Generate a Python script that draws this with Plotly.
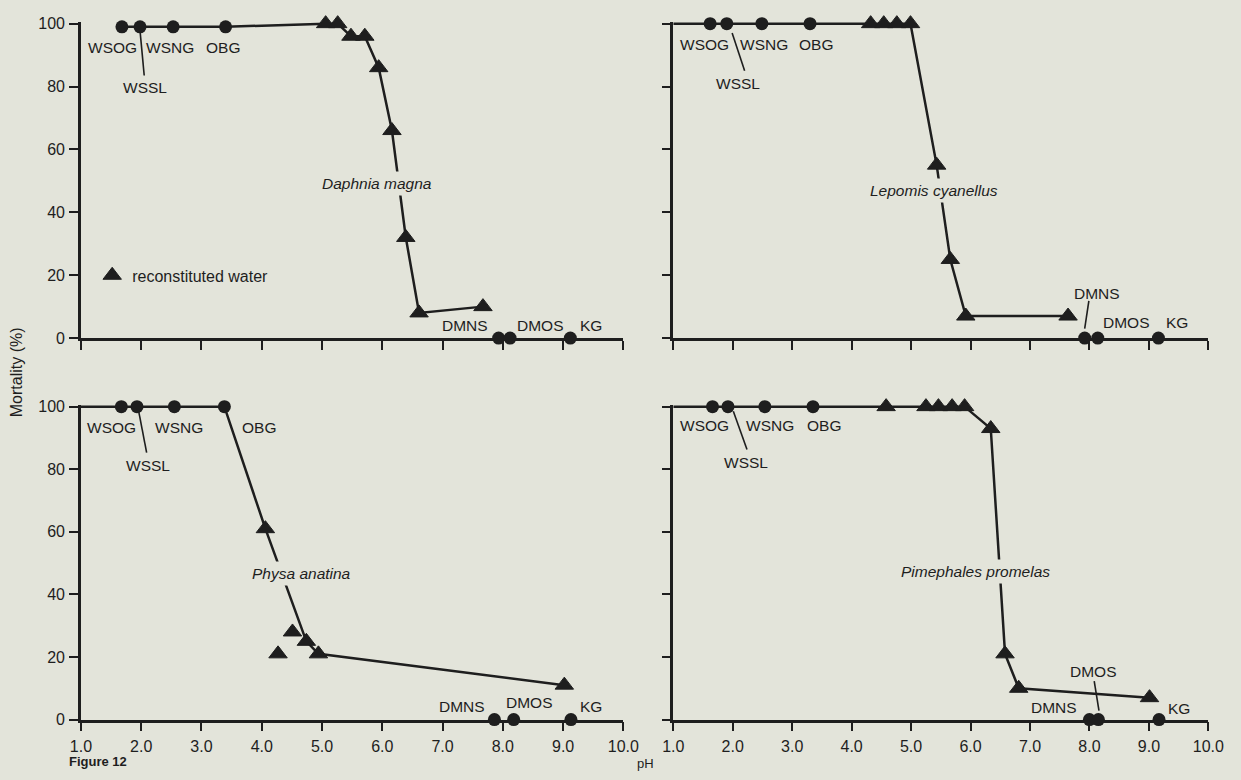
import plotly.graph_objects as go

# ---------------------------------------------------------------------------
# Data: mortality (%) versus pH for four test organisms.
# Circles are the field waters, triangles are reconstituted water.
# ---------------------------------------------------------------------------
x_ticks = [1, 2, 3, 4, 5, 6, 7, 8, 9, 10]
x_tick_labels = ["1.0", "2.0", "3.0", "4.0", "5.0", "6.0", "7.0", "8.0", "9.0", "10.0"]
y_ticks = [0, 20, 40, 60, 80, 100]
y_tick_labels = ["0", "20", "40", "60", "80", "100"]

acid_water_names = ["WSOG", "WSSL", "WSNG", "OBG"]
alkaline_water_names = ["DMNS", "DMOS", "KG"]
species = ["Daphnia magna", "Lepomis cyanellus", "Physa anatina", "Pimephales promelas"]

# Daphnia magna
daphnia_acid_ph = [1.68, 1.98, 2.53, 3.40]
daphnia_acid_mort = [99, 99, 99, 99]
daphnia_alk_ph = [7.93, 8.12, 9.12]
daphnia_alk_mort = [0, 0, 0]
daphnia_recon_ph = [5.06, 5.26, 5.48, 5.71, 5.94, 6.16, 6.39, 6.61, 7.67]
daphnia_recon_mort = [100, 100, 96, 96, 86, 66, 32, 8, 10]
daphnia_curve_ph = [1.68, 1.98, 2.53, 3.40, 5.06, 5.26, 5.48, 5.71, 5.94, 6.16, 6.39, 6.61, 7.67]
daphnia_curve_mort = [99, 99, 99, 99, 100, 100, 96, 96, 86, 66, 32, 8, 10]

# Lepomis cyanellus
lepomis_acid_ph = [1.62, 1.90, 2.49, 3.30]
lepomis_acid_mort = [100, 100, 100, 100]
lepomis_alk_ph = [7.92, 8.14, 9.16]
lepomis_alk_mort = [0, 0, 0]
lepomis_recon_ph = [4.32, 4.54, 4.76, 4.99, 5.43, 5.66, 5.92, 7.64]
lepomis_recon_mort = [100, 100, 100, 100, 55, 25, 7, 7]
lepomis_curve_ph = [1.0, 1.62, 1.90, 2.49, 3.30, 4.32, 4.54, 4.76, 4.99, 5.43, 5.66, 5.92, 7.64]
lepomis_curve_mort = [100, 100, 100, 100, 100, 100, 100, 100, 100, 55, 25, 7, 7]

# Physa anatina
physa_acid_ph = [1.67, 1.93, 2.55, 3.38]
physa_acid_mort = [100, 100, 100, 100]
physa_alk_ph = [7.86, 8.18, 9.13]
physa_alk_mort = [0, 0, 0]
physa_recon_ph = [4.06, 4.27, 4.51, 4.74, 4.94, 9.02]
physa_recon_mort = [61, 21, 28, 25, 21, 11]
physa_curve_ph = [1.0, 1.67, 1.93, 2.55, 3.38, 4.06, 4.74, 4.94, 9.02]
physa_curve_mort = [100, 100, 100, 100, 100, 61, 25, 21, 11]

# Pimephales promelas
pimephales_acid_ph = [1.66, 1.92, 2.54, 3.35]
pimephales_acid_mort = [100, 100, 100, 100]
pimephales_alk_ph = [8.00, 8.15, 9.17]
pimephales_alk_mort = [0, 0, 0]
pimephales_recon_ph = [4.58, 5.25, 5.46, 5.69, 5.90, 6.34, 6.58, 6.81, 9.01]
pimephales_recon_mort = [100, 100, 100, 100, 100, 93, 21, 10, 7]
pimephales_curve_ph = [1.0, 1.66, 1.92, 2.54, 3.35, 4.58, 5.25, 5.46, 5.69, 5.90, 6.34, 6.58, 6.81, 9.01]
pimephales_curve_mort = [100, 100, 100, 100, 100, 100, 100, 100, 100, 100, 93, 21, 10, 7]

# ---------------------------------------------------------------------------
# Styling and placement
# ---------------------------------------------------------------------------
INK = "#1e1e1e"
PAPER = "#e3e4da"
FONT = "Liberation Sans, Arial, Helvetica, sans-serif"
W, H = 1241, 780

# pixel extents of each panel: (x at pH 1, x at pH 10, y at 0 %, y at 100 %)
panel_px = [
    (71.5, 626.0, 338.0, 17.0),     # upper left
    (677.0, 1224.0, 338.0, 17.0),   # upper right
    (71.5, 626.0, 727.5, 408.0),    # lower left
    (677.0, 1224.0, 727.5, 408.0),  # lower right
]
Y_TOP = 100.5  # a little headroom so the 100 % line is not clipped

panels = [
    dict(acid=(daphnia_acid_ph, daphnia_acid_mort), alk=(daphnia_alk_ph, daphnia_alk_mort),
         recon=(daphnia_recon_ph, daphnia_recon_mort), curve=(daphnia_curve_ph, daphnia_curve_mort)),
    dict(acid=(lepomis_acid_ph, lepomis_acid_mort), alk=(lepomis_alk_ph, lepomis_alk_mort),
         recon=(lepomis_recon_ph, lepomis_recon_mort), curve=(lepomis_curve_ph, lepomis_curve_mort)),
    dict(acid=(physa_acid_ph, physa_acid_mort), alk=(physa_alk_ph, physa_alk_mort),
         recon=(physa_recon_ph, physa_recon_mort), curve=(physa_curve_ph, physa_curve_mort)),
    dict(acid=(pimephales_acid_ph, pimephales_acid_mort), alk=(pimephales_alk_ph, pimephales_alk_mort),
         recon=(pimephales_recon_ph, pimephales_recon_mort), curve=(pimephales_curve_ph, pimephales_curve_mort)),
]

# label positions in data units (pH, %) for each panel
label_pos = [
    {"WSOG": (1.53, 92.3), "WSSL": (2.06, 79.8), "WSNG": (2.47, 92.3), "OBG": (3.36, 92.3),
     "DMNS": (7.37, 4.0), "DMOS": (8.62, 4.0), "KG": (9.47, 4.0), "species": (5.91, 49.2)},
    {"WSOG": (1.53, 93.4), "WSSL": (2.09, 80.9), "WSNG": (2.53, 93.4), "OBG": (3.40, 93.4),
     "DMNS": (8.12, 14.1), "DMOS": (8.62, 4.8), "KG": (9.47, 4.8), "species": (5.38, 46.9)},
    {"WSOG": (1.51, 93.3), "WSSL": (2.11, 81.3), "WSNG": (2.63, 93.3), "OBG": (3.96, 93.3),
     "DMNS": (7.32, 4.1), "DMOS": (8.44, 5.3), "KG": (9.47, 4.1), "species": (4.66, 46.7)},
    {"WSOG": (1.53, 94.0), "WSSL": (2.23, 82.2), "WSNG": (2.63, 94.0), "OBG": (3.53, 94.0),
     "DMNS": (7.40, 3.9), "DMOS": (8.06, 15.4), "KG": (9.51, 3.6), "species": (6.08, 47.4)},
]

# leader lines joining a label to its point: (panel, x0, y0, x1, y1)
leaders = [
    (0, 1.98, 97.8, 2.05, 83.5),
    (1, 1.99, 97.0, 2.20, 85.0),
    (1, 7.99, 11.8, 7.92, 3.0),
    (2, 1.96, 98.3, 2.09, 85.3),
    (3, 2.01, 98.5, 2.24, 86.3),
    (3, 8.08, 12.3, 8.16, 2.9),
]

fig = go.Figure()

axis_names = ["", "2", "3", "4"]

for i, p in enumerate(panels):
    xa = "x" + axis_names[i]
    ya = "y" + axis_names[i]
    cx, cy = p["curve"]
    fig.add_trace(go.Scatter(x=cx, y=cy, mode="lines", xaxis=xa, yaxis=ya,
                             line=dict(color=INK, width=2.5), showlegend=False,
                             hoverinfo="skip"))
    ax_, ay_ = p["acid"]
    fig.add_trace(go.Scatter(x=ax_, y=ay_, mode="markers", xaxis=xa, yaxis=ya,
                             marker=dict(symbol="circle", size=13, color=INK),
                             text=acid_water_names, showlegend=False, cliponaxis=False))
    bx, by = p["alk"]
    fig.add_trace(go.Scatter(x=bx, y=by, mode="markers", xaxis=xa, yaxis=ya,
                             marker=dict(symbol="circle", size=13, color=INK),
                             text=alkaline_water_names, showlegend=False, cliponaxis=False))
    rx, ry = p["recon"]
    fig.add_trace(go.Scatter(x=rx, y=ry, mode="markers", xaxis=xa, yaxis=ya,
                             name="reconstituted water",
                             marker=dict(symbol="triangle-up", size=16, color=INK,
                                         line=dict(color=INK, width=1)),
                             showlegend=(i == 0), cliponaxis=False))

annotations = []
shapes = []
label_font = dict(family=FONT, size=15.5, color=INK)

for i, pos in enumerate(label_pos):
    xa = "x" + axis_names[i]
    ya = "y" + axis_names[i]
    for name in acid_water_names + alkaline_water_names:
        x, y = pos[name]
        annotations.append(dict(x=x, y=y, xref=xa, yref=ya, text=name, showarrow=False,
                                xanchor="center", yanchor="middle", font=label_font))
    x, y = pos["species"]
    annotations.append(dict(x=x, y=y, xref=xa, yref=ya, text="<i>" + species[i] + "</i>",
                            showarrow=False, xanchor="center", yanchor="middle",
                            font=label_font, bgcolor=PAPER, borderpad=3))

for (i, x0, y0, x1, y1) in leaders:
    shapes.append(dict(type="line", xref="x" + axis_names[i], yref="y" + axis_names[i],
                       x0=x0, y0=y0, x1=x1, y1=y1, line=dict(color=INK, width=1.6),
                       layer="above"))

# shared axis titles and figure caption
annotations.append(dict(x=5 / W, y=1 - 373 / H, xref="paper", yref="paper",
                        xanchor="center", yanchor="middle",
                        text="Mortality (%)", textangle=-90, showarrow=False,
                        font=dict(family=FONT, size=16, color=INK)))
annotations.append(dict(x=649 / W, y=1 - 772 / H, xref="paper", yref="paper",
                        xanchor="center", yanchor="middle",
                        text="pH", showarrow=False,
                        font=dict(family=FONT, size=13, color=INK)))
annotations.append(dict(x=57 / W, y=0, xref="paper", yref="paper",
                        xanchor="left", yanchor="bottom", text="<b>Figure 12</b>", showarrow=False,
                        font=dict(family=FONT, size=13, color=INK)))

layout_axes = {}
for i, (x1px, x10px, y0px, y100px) in enumerate(panel_px):
    ytop_px = y0px - (y0px - y100px) * Y_TOP / 100.0
    xdom = [x1px / W, x10px / W]
    ydom = [1 - y0px / H, 1 - ytop_px / H]
    bottom = i >= 2
    left = i % 2 == 0
    suffix = axis_names[i]
    common = dict(showline=True, linecolor=INK, linewidth=2.5, ticks="outside",
                  ticklen=9, tickwidth=2, tickcolor=INK, showgrid=False, zeroline=False,
                  tickfont=dict(family=FONT, size=16, color=INK), fixedrange=True)
    layout_axes["xaxis" + suffix] = dict(
        common, domain=xdom, range=[1, 10], anchor="y" + suffix,
        tickmode="array", tickvals=x_ticks, ticktext=x_tick_labels,
        showticklabels=bottom, ticklabelstandoff=1)
    layout_axes["yaxis" + suffix] = dict(
        common, domain=ydom, range=[0, Y_TOP], anchor="x" + suffix,
        tickmode="array", tickvals=y_ticks, ticktext=y_tick_labels,
        showticklabels=left, ticklabelstandoff=1)

legend_tri_px = (111.5, 274.0)
fig.update_layout(
    width=W, height=H, autosize=False,
    margin=dict(l=0, r=0, t=0, b=0),
    paper_bgcolor=PAPER, plot_bgcolor=PAPER,
    font=dict(family=FONT, color=INK),
    showlegend=True,
    legend=dict(x=(legend_tri_px[0] - 28.5) / W, y=1 - legend_tri_px[1] / H,
                xanchor="left", yanchor="middle", bgcolor="rgba(0,0,0,0)",
                font=dict(family=FONT, size=16, color=INK), itemwidth=30),
    annotations=annotations,
    shapes=shapes,
    **layout_axes,
)

fig.write_html("out.html")
